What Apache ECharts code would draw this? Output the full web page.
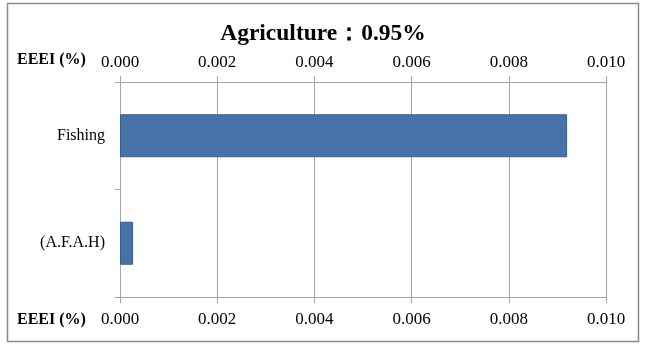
<!DOCTYPE html>
<html>
<head>
<meta charset="utf-8">
<script src="https://cdn.jsdelivr.net/npm/echarts@6/dist/echarts.min.js"></script>
<style>
  html, body { margin: 0; padding: 0; background: #ffffff; }
  #chart { width: 646px; height: 347px; }
</style>
</head>
<body>
<div id="chart"></div>
<script>
// Sector breakdown of EEEI (%) within Agriculture
const titleText = 'Agriculture：0.95%';
const axisTitle = 'EEEI (%)';
const categories = ['Fishing', '(A.F.A.H)'];
const eeeiValues = [0.0092, 0.00027];
const axisMin = 0;
const axisMax = 0.010;
const axisStep = 0.002;

const serif = '"Liberation Serif", "Times New Roman", serif';
const gridColor = '#a6a6a6';

const valueAxis = (position) => ({
  type: 'value',
  position: position,
  min: axisMin,
  max: axisMax,
  interval: axisStep,
  axisLine: { show: true, onZero: false, lineStyle: { color: gridColor, width: 1 } },
  axisTick: { show: true, length: 6, lineStyle: { color: gridColor } },
  axisLabel: {
    margin: position === 'bottom' ? 14 : 11,
    fontFamily: serif,
    fontSize: 17,
    color: '#000000',
    formatter: (v) => v.toFixed(3)
  },
  splitLine: { show: position === 'bottom', lineStyle: { color: gridColor, width: 1 } }
});

const chart = echarts.init(document.getElementById('chart'), null, { renderer: 'canvas' });
chart.setOption({
  animation: false,
  backgroundColor: '#ffffff',
  title: {
    text: titleText,
    left: 'center',
    top: 17,
    textStyle: { fontFamily: serif, fontWeight: 'bold', fontSize: 23.5, color: '#000000' }
  },
  grid: { left: 120, right: 40, top: 82, bottom: 50, containLabel: false },
  xAxis: [valueAxis('top'), valueAxis('bottom')],
  yAxis: {
    type: 'category',
    data: categories,
    inverse: true,
    axisLine: { show: true, lineStyle: { color: gridColor, width: 1 } },
    axisTick: { show: true, length: 5, lineStyle: { color: gridColor } },
    axisLabel: { margin: 15, fontFamily: serif, fontSize: 16, color: '#000000' },
    splitLine: { show: false }
  },
  series: [{
    type: 'bar',
    xAxisIndex: 1,
    data: eeeiValues,
    barCategoryGap: '60%',
    itemStyle: { color: '#4672a8', borderColor: '#3a5f8e', borderWidth: 1 }
  }],
  graphic: [
    {
      type: 'rect',
      shape: { x: 7.5, y: 3.5, width: 631, height: 338 },
      style: { fill: 'none', stroke: '#8c8c8c', lineWidth: 1.5 },
      silent: true
    },
    {
      type: 'text',
      left: 17, top: 52,
      style: { text: axisTitle, fontFamily: serif, fontWeight: 'bold', fontSize: 16, fill: '#000000' }
    },
    {
      type: 'text',
      left: 17, top: 312,
      style: { text: axisTitle, fontFamily: serif, fontWeight: 'bold', fontSize: 16, fill: '#000000' }
    }
  ]
});
</script>
</body>
</html>
